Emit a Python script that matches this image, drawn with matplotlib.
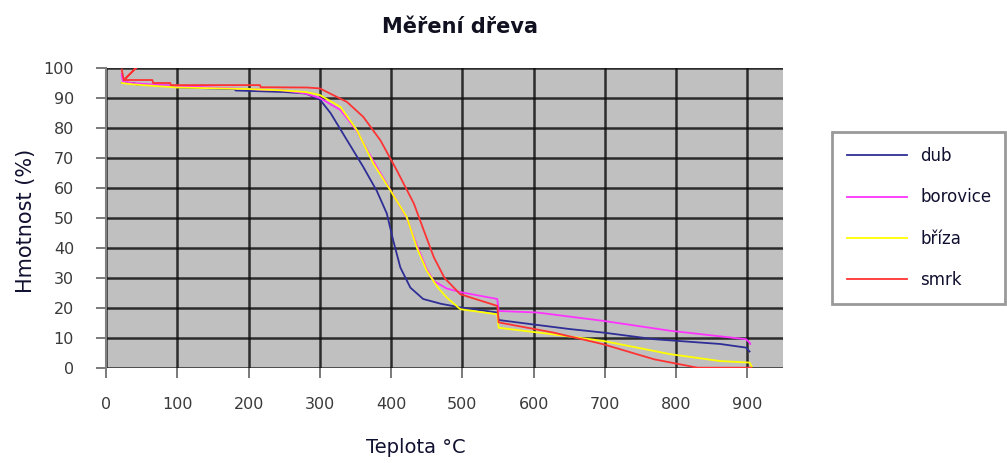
import matplotlib
matplotlib.use("Agg")
import matplotlib.pyplot as plt

# teplota (°C) a hmotnost (%) pro jednotlive druhy dreva
dub_t = [22, 40, 42, 100, 102, 180, 182, 250, 280, 300, 315, 338, 361, 380, 394, 403, 413, 427, 445, 470, 497, 549, 551, 577, 600, 650, 698, 769, 862, 898, 903]
dub_m = [95, 95, 94.5, 94, 93.5, 93, 92.5, 92, 91.5, 89.5, 85, 76, 67, 59, 51.5, 42.5, 33.5, 26.8, 23, 21.4, 20.2, 18.5, 16, 15.2, 14.5, 13, 11.8, 9.6, 8, 6.8, 5.5]

borovice_t = [22, 24, 28, 35, 100, 200, 250, 280, 300, 329, 352, 375, 400, 422, 436, 450, 460, 478, 497, 549, 551, 605, 698, 792, 898, 903, 904]
borovice_m = [98, 95, 95.5, 95, 94, 93, 92.5, 91.5, 90, 86, 79, 69, 59, 50, 41, 33, 29, 26.5, 25.3, 23, 19, 18.5, 15.7, 12.4, 9.6, 8.5, 8]

briza_t = [22, 40, 100, 200, 244, 280, 300, 329, 352, 375, 399, 422, 436, 450, 465, 478, 497, 549, 551, 628, 698, 792, 862, 903, 906]
briza_m = [95, 94.5, 93.5, 93, 92.6, 92, 91, 87, 79.3, 68.2, 59.2, 50.3, 40.2, 32.4, 27, 23.5, 19.6, 17.9, 13.4, 11.2, 9.0, 4.6, 2.3, 1.8, 0.5]

smrk_t = [22, 25, 44, 25, 65, 66, 90, 91, 216, 217, 282, 300, 338, 361, 385, 408, 432, 446, 460, 475, 497, 549, 551, 628, 698, 769, 830, 905]
smrk_m = [99.5, 96, 100.5, 96, 96, 95, 95, 94.3, 94.3, 93.6, 93.5, 93.2, 88.7, 83.7, 75.9, 65.9, 54.8, 45.8, 36.9, 30, 24.6, 20.7, 15.2, 11.8, 7.9, 2.9, 0.1, 0.1]

x_ticks = [0, 100, 200, 300, 400, 500, 600, 700, 800, 900]
y_ticks = [0, 10, 20, 30, 40, 50, 60, 70, 80, 90, 100]

fig = plt.figure(figsize=(10.07, 4.63), dpi=100, facecolor="white")
ax = fig.add_axes([0.1053, 0.2052, 0.6723, 0.6479])
ax.set_facecolor("#c0c0c0")

ax.plot(dub_t, dub_m, c="#2e2e96", lw=1.3, label="dub")
ax.plot(borovice_t, borovice_m, c="#ff33ff", lw=1.3, label="borovice")
ax.plot(briza_t, briza_m, c="#ffff00", lw=1.3, label="bříza")
ax.plot(smrk_t, smrk_m, c="#ff3333", lw=1.3, label="smrk")

ax.set_xlim(0, 950)
ax.set_ylim(0, 100)
ax.set_xticks(x_ticks)
ax.set_yticks(y_ticks)
ax.grid(True, color="#111111", lw=1.8, alpha=0.85)
ax.set_axisbelow(True)
for s in ["top", "right", "bottom"]:
    ax.spines[s].set_visible(False)
ax.spines["left"].set_color("#808080")
ax.spines["left"].set_linewidth(1.5)
ax.tick_params(axis="both", colors="#707070", labelcolor="#3a3a3a", labelsize=11.5, length=7, width=1.3)
ax.tick_params(axis="y", pad=16)
ax.tick_params(axis="x", pad=14)

ax.set_xlabel("Teplota °C", fontsize=14, color="#101030")
ax.xaxis.set_label_coords(0.458, -0.235)
ax.set_ylabel("Hmotnost (%)", fontsize=15, color="#101030")
ax.yaxis.set_label_coords(-0.103, 0.49)
fig.text(0.457, 0.942, "Měření dřeva", fontsize=15, fontweight="bold", ha="center", va="center", color="#101020")

leg = fig.legend(loc="upper left", bbox_to_anchor=(0.826, 0.3456, 0.172, 0.369), mode="expand",
                 fontsize=12, frameon=True, fancybox=False, handlelength=3.6, labelspacing=1.4,
                 borderaxespad=0, handletextpad=0.8, borderpad=0.9)
leg.get_frame().set_edgecolor("#808080")
leg.get_frame().set_linewidth(2)
for t in leg.get_texts():
    t.set_color("#101030")

fig.savefig("out.png", dpi=100, facecolor="white")
